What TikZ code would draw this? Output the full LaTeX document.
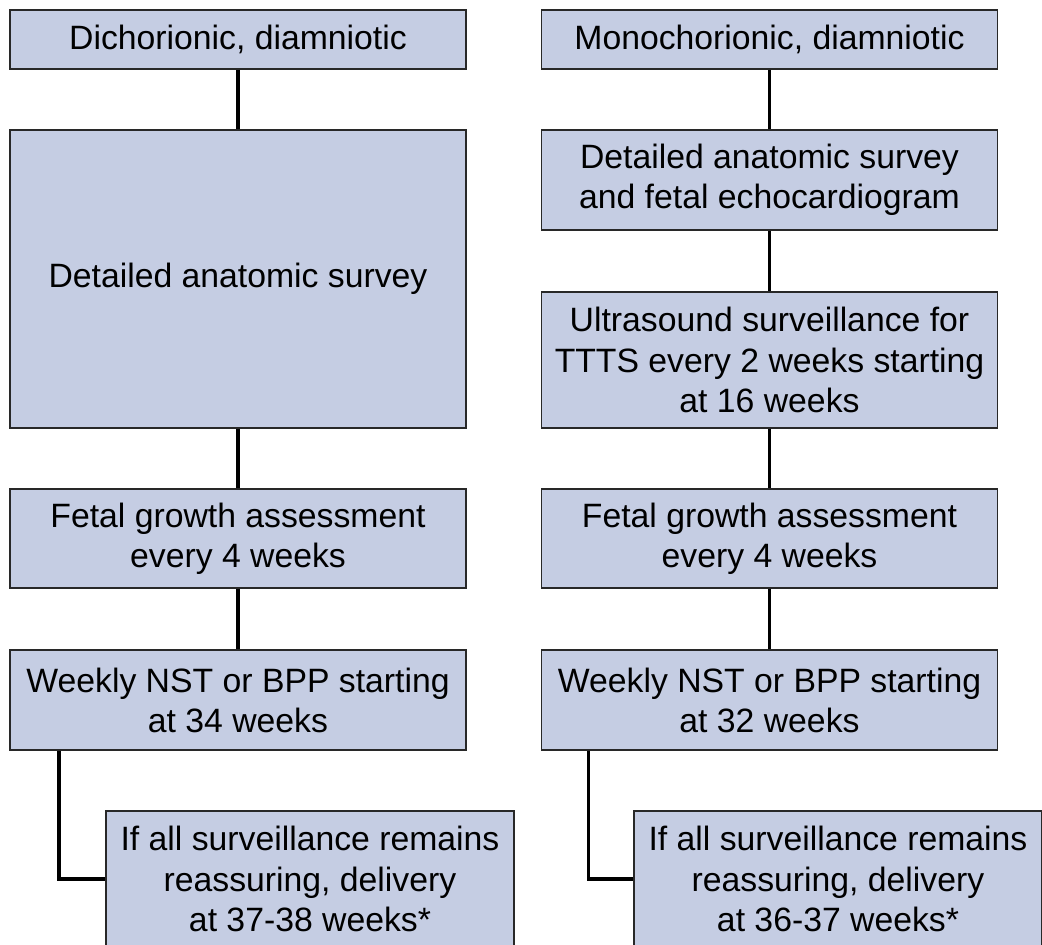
\documentclass[tikz,border=0pt]{standalone}
\usepackage{fontspec}
\setmainfont{Liberation Sans}
\definecolor{boxfill}{RGB}{197,205,227}
\definecolor{boxline}{RGB}{40,40,40}
\tikzset{
  stage/.style={draw=boxline,line width=0.9pt,fill=boxfill,align=center,
    inner sep=2pt,minimum width=11.4cm,minimum height=2.5cm,
    font=\fontsize{24}{28.5}\selectfont},
  last/.style={stage,minimum width=10.2cm,minimum height=3.4cm},
  link/.style={black,line width=2.6pt}
}
\begin{document}
\begin{tikzpicture}[x=0.025cm,y=-0.025cm]
\useasboundingbox (0,0) rectangle (1042,945);
\clip (0,0) rectangle (1042,945);
% dichorionic column
\node[stage,minimum height=1.475cm] (dd1) at (238,39.5) {Dichorionic, diamniotic};
\node[stage,minimum height=7.45cm] (dd2) at (238,279) {Detailed anatomic survey};
\node[stage,minimum height=2.475cm] (dd3) at (238,538.5) {Fetal growth assessment\\every 4 weeks};
\node[stage] (dd4) at (238,700) {Weekly NST or BPP starting\\at 34 weeks};
\node[last] (dd5) at (310,879) {If all surveillance remains\\reassuring, delivery\\at 37-38 weeks*};
% monochorionic column
\node[stage,minimum height=1.475cm] (mm1) at (769.5,39.5) {Monochorionic, diamniotic};
\node[stage] (mm2) at (769.5,180) {Detailed anatomic survey\\and fetal echocardiogram};
\node[stage,minimum height=3.4cm] (mm3) at (769.5,360) {Ultrasound surveillance for\\TTTS every 2 weeks starting\\at 16 weeks};
\node[stage,minimum height=2.475cm] (mm4) at (769.5,538.5) {Fetal growth assessment\\every 4 weeks};
\node[stage] (mm5) at (769.5,700) {Weekly NST or BPP starting\\at 32 weeks};
\node[last] (mm6) at (838,879) {If all surveillance remains\\reassuring, delivery\\at 36-37 weeks*};
% connectors
\foreach \a/\b in {dd1/dd2,dd2/dd3,dd3/dd4,mm1/mm2,mm2/mm3,mm3/mm4,mm4/mm5}
  \draw[link] (\a) -- (\b);
\draw[link] ([xshift=1.25cm]dd4.south west) |- (dd5.west);
\draw[link] ([xshift=1.19cm]mm5.south west) |- (mm6.west);
\end{tikzpicture}
\end{document}
